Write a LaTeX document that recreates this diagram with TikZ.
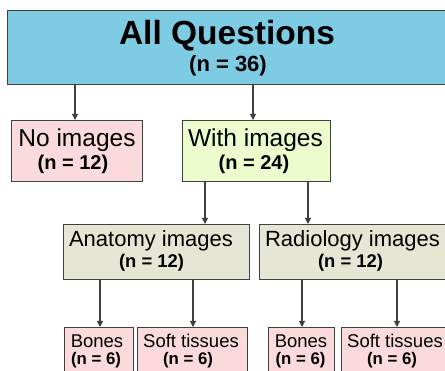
\documentclass[tikz,border=0pt]{standalone}
\usepackage{fontspec}
\setmainfont{Liberation Sans}
\usetikzlibrary{arrows.meta}
\definecolor{qblue}{RGB}{126,203,228}
\definecolor{qpink}{RGB}{250,218,218}
\definecolor{qgreen}{RGB}{236,252,205}
\definecolor{qolive}{RGB}{230,230,212}
\definecolor{qline}{RGB}{64,64,64}
\tikzset{
  box/.style={draw=qline, line width=1pt, inner sep=0pt, anchor=north west},
  lbl/.style={anchor=base, inner sep=0pt},
  arr/.style={draw=qline, line width=1.1pt, -{Triangle[length=6pt,width=6pt]}},
}
\begin{document}
\begin{tikzpicture}[x=1pt,y=-1pt]
      \useasboundingbox (0,0) rectangle (445,371);
      % boxes
      \node[box, fill=qblue, minimum width=440pt, minimum height=74pt] (all) at (7,10) {};
      \node[box, fill=qpink, minimum width=131pt, minimum height=61pt] (noimg) at (11,120) {};
      \node[box, fill=qgreen, minimum width=148pt, minimum height=61pt] (withimg) at (182,120) {};
      \node[box, fill=qolive, minimum width=186pt, minimum height=55pt] (anat) at (63,224) {};
      \node[box, fill=qolive, minimum width=190pt, minimum height=55pt] (radio) at (259,224) {};
      \node[box, fill=qpink, minimum width=69pt, minimum height=60pt] (bones1) at (64,327) {};
      \node[box, fill=qpink, minimum width=110pt, minimum height=60pt] (soft1) at (137,327) {};
      \node[box, fill=qpink, minimum width=66pt, minimum height=60pt] (bones2) at (268,327) {};
      \node[box, fill=qpink, minimum width=110pt, minimum height=60pt] (soft2) at (341,327) {};
      % texts
      \node[lbl, font=\bfseries\fontsize{33.5}{40}\selectfont] (allA) at (227,45) {All Questions};
      \node[lbl, font=\bfseries\fontsize{22}{26}\selectfont] (allB) at (228,72) {(n = 36)};
      \node[lbl, font=\fontsize{24.5}{29}\selectfont] (noimgA) at (77,146.5) {No images};
      \node[lbl, font=\bfseries\fontsize{20}{24}\selectfont] (noimgB) at (73,170) {(n = 12)};
      \node[lbl, font=\fontsize{24.5}{29}\selectfont] (withimgA) at (255.5,146.5) {With images};
      \node[lbl, font=\bfseries\fontsize{20}{24}\selectfont] (withimgB) at (254,170) {(n = 24)};
      \node[lbl, font=\fontsize{22}{26}\selectfont] (anatA) at (151,247) {Anatomy images};
      \node[lbl, font=\bfseries\fontsize{18.4}{22}\selectfont] (anatB) at (151.5,268) {(n = 12)};
      \node[lbl, font=\fontsize{22}{26}\selectfont] (radioA) at (352.5,247) {Radiology images};
      \node[lbl, font=\bfseries\fontsize{18.4}{22}\selectfont] (radioB) at (350.5,268) {(n = 12)};
      \node[lbl, font=\fontsize{18.5}{22}\selectfont] (bones1A) at (97,347.5) {Bones};
      \node[lbl, font=\bfseries\fontsize{16.8}{20}\selectfont] (bones1B) at (96,365) {(n = 6)};
      \node[lbl, font=\fontsize{18.5}{22}\selectfont] (soft1A) at (191,347.5) {Soft tissues};
      \node[lbl, font=\bfseries\fontsize{16.8}{20}\selectfont] (soft1B) at (188,365) {(n = 6)};
      \node[lbl, font=\fontsize{18.5}{22}\selectfont] (bones2A) at (301,347.5) {Bones};
      \node[lbl, font=\bfseries\fontsize{16.8}{20}\selectfont] (bones2B) at (300.5,365) {(n = 6)};
      \node[lbl, font=\fontsize{18.5}{22}\selectfont] (soft2A) at (395,347.5) {Soft tissues};
      \node[lbl, font=\bfseries\fontsize{16.8}{20}\selectfont] (soft2B) at (392,365) {(n = 6)};
      % arrows
      \draw[arr] (all.south -| 75,0) -- (noimg.north -| 75,0);
      \draw[arr] (all.south -| 253,0) -- (withimg.north -| 253,0);
      \draw[arr] (withimg.south -| 205,0) -- (anat.north -| 205,0);
      \draw[arr] (withimg.south -| 308,0) -- (radio.north -| 308,0);
      \draw[arr] (anat.south -| 100,0) -- (bones1.north -| 100,0);
      \draw[arr] (anat.south -| 193,0) -- (soft1.north -| 193,0);
      \draw[arr] (radio.south -| 302,0) -- (bones2.north -| 302,0);
      \draw[arr] (radio.south -| 397,0) -- (soft2.north -| 397,0);
    \end{tikzpicture}
\end{document}
